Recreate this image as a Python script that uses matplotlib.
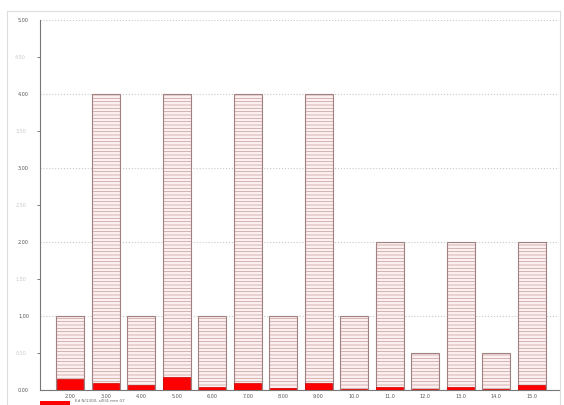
import matplotlib.pyplot as plt
from matplotlib.patches import Rectangle

categories = ['2.00', '3.00', '4.00', '5.00', '6.00', '7.00', '8.00', '9.00',
              '10.0', '11.0', '12.0', '13.0', '14.0', '15.0']
totals = [1, 4, 1, 4, 1, 4, 1, 4, 1, 2, 0.5, 2, 0.5, 2]
values = [0.15, 0.10, 0.064, 0.18, 0.036, 0.095, 0.027, 0.09, 0.02,
          0.045, 0.02, 0.04, 0.015, 0.07]
major_ticks = [0, 1, 2, 3, 4, 5]
major_labels = ['0.00', '1.00', '2.00', '3.00', '4.00', '5.00']
minor_ticks = [0.5, 1.5, 2.5, 3.5, 4.5]
minor_labels = ['0.50', '1.50', '2.50', '3.50', '4.50']
legend_text = 'Ed N/1300, s/E/4 mm 07'

plt.rcParams['hatch.linewidth'] = 0.5

fig = plt.figure(figsize=(5.64, 4.05), dpi=100)
ax = fig.add_axes([0.0709, 0.037, 0.920, 0.914])

x = list(range(len(categories)))

# hatched background bars
ax.bar(x, totals, width=0.79, color='#fdf0f0', edgecolor='#c49a9a',
       hatch='-----', linewidth=0, zorder=2)
ax.bar(x, totals, width=0.79, color='none', edgecolor='#a08080',
       linewidth=0.8, zorder=3)
# red value bars
ax.bar(x, values, width=0.74, color='#ff0000', edgecolor='#cc0000',
       linewidth=0.5, zorder=4)

ax.set_xlim(-0.85, 13.77)
ax.set_ylim(0, 5)

ax.set_yticks(major_ticks)
ax.set_yticklabels(major_labels, fontsize=3.5, color='#555555')
ax.set_yticks(minor_ticks, minor=True)
ax.set_yticklabels(minor_labels, minor=True, fontsize=3.5, color='#c8c8c8')
ax.tick_params(axis='y', which='major', length=0, pad=8)
ax.tick_params(axis='y', which='minor', length=2, width=0.6, color='#666666', pad=8)

ax.set_xticks(x)
ax.set_xticklabels(categories, fontsize=3.5, color='#555555')
ax.tick_params(axis='x', length=0, pad=3)

ax.grid(axis='y', which='major', linestyle=':', color='#c8c8c8', linewidth=0.8, zorder=0)
ax.axvline(13.77, linestyle=':', color='#c8c8c8', linewidth=0.8)

ax.spines['top'].set_visible(False)
ax.spines['right'].set_visible(False)
ax.spines['left'].set_color('#777777')
ax.spines['bottom'].set_color('#777777')
ax.spines['left'].set_linewidth(0.8)
ax.spines['bottom'].set_linewidth(0.8)

# outer frame
fig.patches.append(Rectangle((7 / 564, -0.1), 553 / 564, 1.1 - 11 / 405,
                             transform=fig.transFigure, fill=False,
                             edgecolor='#dddddd', linewidth=0.8))

# legend
fig.patches.append(Rectangle((40 / 564, 0), 30 / 564, 4 / 405,
                             transform=fig.transFigure, facecolor='#ff0000',
                             edgecolor='none'))
fig.text(75 / 564, 1.5 / 405, legend_text, fontsize=3, color='#666666', va='bottom')

fig.savefig('out.png', dpi=100)
